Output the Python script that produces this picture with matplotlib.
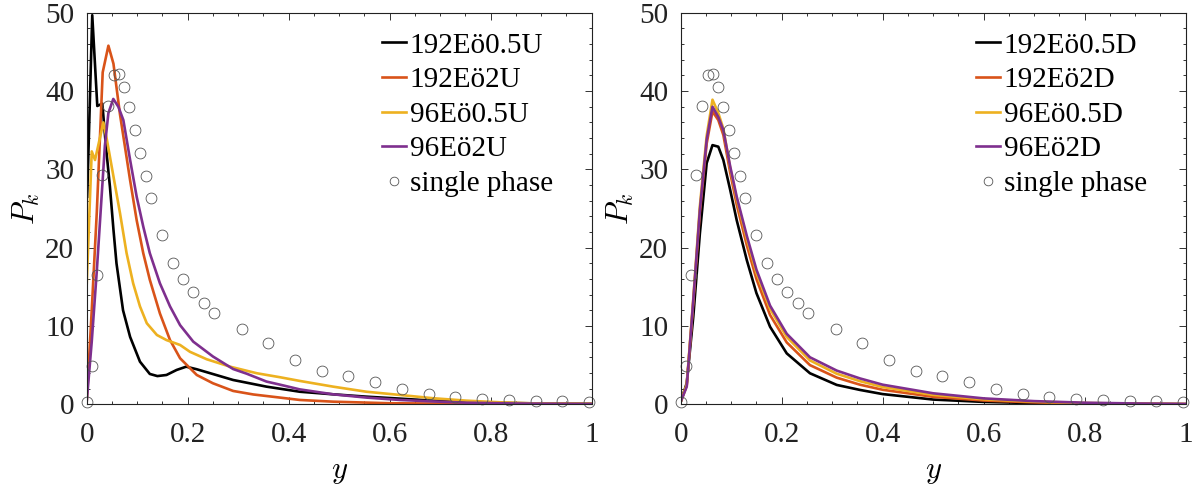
import numpy as np
import matplotlib
matplotlib.use("Agg")
import matplotlib.pyplot as plt
from matplotlib.ticker import MultipleLocator, FuncFormatter

plt.rcParams["font.family"] = ["Liberation Serif", "DejaVu Serif"]
plt.rcParams["mathtext.fontset"] = "cm"

# single phase reference (same in both panels)
sp_x = [0.001, 0.011, 0.021, 0.031, 0.043, 0.055, 0.064, 0.074, 0.084, 0.096, 0.106,
        0.117, 0.127, 0.149, 0.170, 0.190, 0.211, 0.232, 0.253, 0.307, 0.360, 0.413,
        0.465, 0.518, 0.571, 0.624, 0.677, 0.729, 0.783, 0.836, 0.889, 0.942, 0.995]
sp_v = [0.33, 4.9, 16.5, 29.3, 38.1, 42.05, 42.2, 40.5, 38.0, 35.0, 32.1,
        29.2, 26.4, 21.6, 18.1, 16.0, 14.3, 12.9, 11.6, 9.6, 7.87, 5.66,
        4.3, 3.66, 2.8, 1.96, 1.32, 0.93, 0.68, 0.59, 0.46, 0.38, 0.33]

# left panel (U)
u_black_x = [0.001, 0.011, 0.021, 0.031, 0.038, 0.046, 0.053, 0.059, 0.072, 0.086, 0.1055,
             0.125, 0.14, 0.158, 0.178, 0.197, 0.218, 0.29, 0.356, 0.422, 0.488, 0.554,
             0.62, 0.686, 0.752, 0.82, 0.9, 1.0]
u_black_v = [26.5, 49.7, 38.1, 38.4, 33.0, 27.8, 22.3, 18.0, 12.0, 8.6, 5.44,
             3.87, 3.6, 3.74, 4.38, 4.8, 4.47, 3.1, 2.25, 1.6, 1.27, 0.97,
             0.72, 0.46, 0.3, 0.18, 0.1, 0.05]

u_orange_x = [0.0, 0.01, 0.02, 0.0317, 0.043, 0.053, 0.066, 0.086, 0.099, 0.112, 0.125,
              0.145, 0.165, 0.185, 0.218, 0.25, 0.29, 0.33, 0.383, 0.422, 0.488, 0.6,
              0.8, 1.0]
u_orange_v = [0.3, 12.0, 24.5, 42.4, 45.8, 43.5, 37.0, 28.6, 23.5, 19.3, 15.9,
              11.6, 8.2, 5.87, 3.74, 2.68, 1.7, 1.25, 0.85, 0.55, 0.33, 0.13,
              0.04, 0.02]

u_yellow_x = [0.0, 0.01, 0.0165, 0.033, 0.04, 0.053, 0.066, 0.079, 0.092, 0.1055, 0.119,
              0.139, 0.158, 0.185, 0.2045, 0.2376, 0.284, 0.337, 0.383, 0.422, 0.488,
              0.554, 0.62, 0.686, 0.752, 0.818, 0.88, 1.0]
u_yellow_v = [15.2, 32.3, 31.2, 36.0, 33.8, 29.1, 24.4, 19.3, 15.45, 12.5, 10.35,
              8.85, 8.2, 7.57, 6.7, 5.75, 4.8, 3.96, 3.45, 2.98, 2.25,
              1.6, 1.19, 0.77, 0.46, 0.25, 0.12, 0.05]

u_purple_x = [0.0, 0.01, 0.02, 0.03, 0.036, 0.043, 0.0527, 0.0627, 0.0726, 0.086, 0.099,
              0.112, 0.125, 0.145, 0.165, 0.185, 0.211, 0.25, 0.29, 0.317, 0.356, 0.383,
              0.422, 0.488, 0.554, 0.62, 0.686, 0.752, 0.85, 1.0]
u_purple_v = [0.3, 8.0, 17.0, 27.0, 33.0, 37.2, 39.0, 38.0, 36.3, 31.2, 26.5,
              22.7, 19.3, 15.45, 12.5, 10.1, 8.0, 6.1, 4.5, 3.9, 2.9, 2.5,
              1.9, 1.27, 0.85, 0.55, 0.36, 0.2, 0.1, 0.03]

# right panel (D)
d_x = [0.0, 0.012, 0.025, 0.038, 0.0515, 0.063, 0.0745, 0.0845, 0.098, 0.111, 0.131,
       0.150, 0.177, 0.21, 0.256, 0.309, 0.355, 0.4, 0.5, 0.6, 0.7, 0.8, 0.9, 1.0]
d_black_v = [0.3, 2.7, 11.2, 21.8, 30.8, 33.1, 32.9, 31.2, 27.4, 23.5, 18.4,
             14.2, 9.9, 6.5, 3.96, 2.47, 1.83, 1.3, 0.6, 0.3, 0.15, 0.07, 0.03, 0.01]
d_orange_v = [0.3, 2.4, 13.0, 24.5, 33.3, 37.4, 36.3, 34.4, 29.6, 25.5, 20.3,
              16.0, 11.4, 7.9, 5.0, 3.4, 2.5, 1.85, 0.95, 0.48, 0.24, 0.12, 0.06, 0.02]
d_yellow_v = [0.3, 2.5, 13.5, 25.3, 34.3, 38.9, 37.2, 35.2, 30.2, 26.2, 21.1,
              16.8, 12.2, 8.6, 5.6, 3.9, 2.95, 2.2, 1.2, 0.63, 0.33, 0.16, 0.08, 0.03]
d_purple_v = [0.3, 2.25, 13.3, 24.8, 33.8, 38.0, 36.7, 35.0, 30.4, 26.5, 21.5,
              17.2, 12.6, 9.0, 6.0, 4.3, 3.3, 2.5, 1.4, 0.75, 0.4, 0.2, 0.1, 0.04]

labels_u = ["192Eö0.5U", "192Eö2U", "96Eö0.5U", "96Eö2U"]
labels_d = ["192Eö0.5D", "192Eö2D", "96Eö0.5D", "96Eö2D"]
colors = ["#000000", "#D95319", "#EDB120", "#7E2F8E"]

fig = plt.figure(figsize=(11.99, 4.93), dpi=100)
ax1 = fig.add_axes([0.0723, 0.180, 0.4212, 0.794])
ax2 = fig.add_axes([0.5677, 0.180, 0.4212, 0.794])

left_series = [(u_black_x, u_black_v), (u_orange_x, u_orange_v),
               (u_yellow_x, u_yellow_v), (u_purple_x, u_purple_v)]
right_series = [(d_x, d_black_v), (d_x, d_orange_v), (d_x, d_yellow_v), (d_x, d_purple_v)]

for ax, series, labels in [(ax1, left_series, labels_u), (ax2, right_series, labels_d)]:
    for (xs, vs), lab, c in zip(series, labels, colors):
        ax.plot(xs, vs, color=c, lw=1.9, label=lab)
    ax.plot(sp_x, sp_v, ls="none", marker="o", ms=7.8, mfc="none", mec="#555555",
            mew=0.6, label="single phase", clip_on=False)
    ax.set_xlim(0, 1)
    ax.set_ylim(0, 50)
    ax.xaxis.set_major_locator(MultipleLocator(0.2))
    ax.xaxis.set_minor_locator(MultipleLocator(0.05))
    ax.yaxis.set_major_locator(MultipleLocator(10))
    ax.yaxis.set_minor_locator(MultipleLocator(2))
    ax.xaxis.set_major_formatter(FuncFormatter(lambda v, p: "%g" % round(v, 2)))
    ax.tick_params(which="both", direction="in", top=True, right=True,
                   width=0.7, colors="#333333", labelcolor="#222222", labelsize=21)
    ax.tick_params(which="major", length=5)
    ax.tick_params(which="minor", length=2.5)
    ax.tick_params(axis="x", pad=13)
    ax.tick_params(axis="y", pad=9)
    for lbl in ax.get_xticklabels() + ax.get_yticklabels():
        lbl.set_fontfamily(["Liberation Serif", "DejaVu Serif"])
    for s in ax.spines.values():
        s.set_linewidth(0.8)
        s.set_color("#222222")
    ax.set_xlabel("$y$", fontsize=22, labelpad=6)
    ax.set_ylabel("$P_k$", fontsize=22, labelpad=2)
    ax.legend(loc="upper right", bbox_to_anchor=(0.958, 0.995), frameon=False,
              fontsize=21, handlelength=0.85, handletextpad=0.12, markerscale=0.8,
              labelspacing=0.28, borderaxespad=0.2)

fig.savefig("out.png", dpi=100)
